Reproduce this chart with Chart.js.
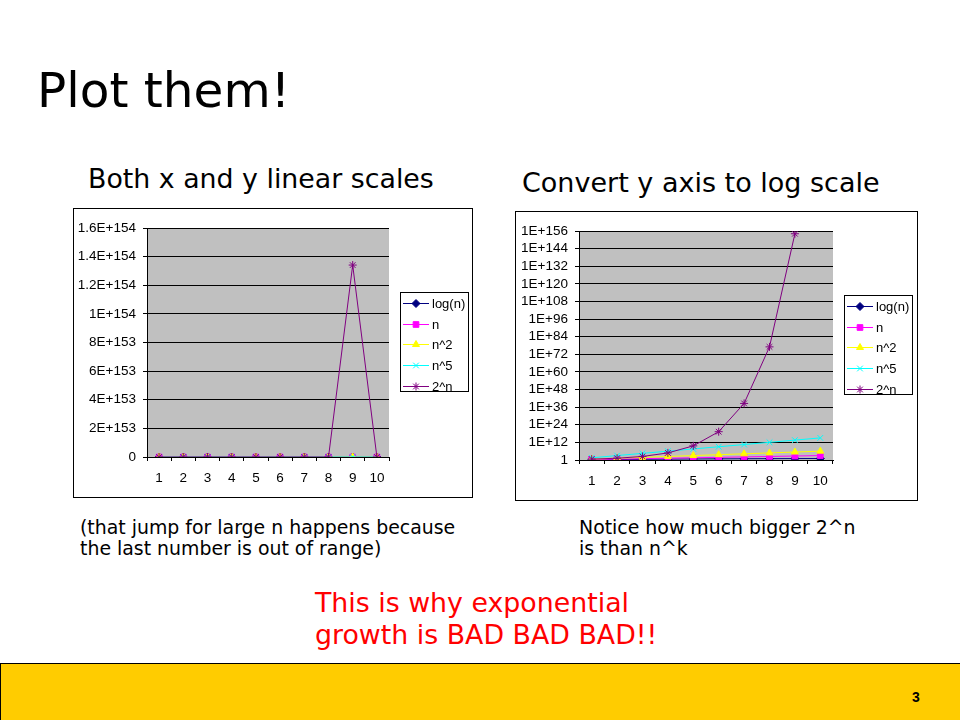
<!DOCTYPE html>
<html>
<head>
<meta charset="utf-8">
<title>Plot them!</title>
<script src="https://cdn.jsdelivr.net/npm/chart.js@4.4.1/dist/chart.umd.min.js"></script>
<style>
    body { margin: 0; width: 960px; height: 720px; background: #fff; position: relative; overflow: hidden; font-family: "DejaVu Sans", Verdana, sans-serif; }
    .txt { position: absolute; white-space: nowrap; color: #000; line-height: 1; }
    canvas { position: absolute; }
    #footer { position: absolute; left: 0; top: 663px; width: 960px; height: 57px; background: #ffcc00; border-top: 1px solid #000; border-left: 1px solid #000; box-sizing: border-box; }
    #pageNo { position: absolute; left: 912px; top: 690px; font: bold 14px "Liberation Sans", Arial, sans-serif; line-height: 1; }
</style>
</head>
<body>

<div class="txt" style="left:37px; top:66px; font-size:48.5px;">Plot them!</div>
<div class="txt" style="left:88px; top:166px; font-size:26.8px;">Both x and y linear scales</div>
<div class="txt" style="left:522px; top:169px; font-size:27px;">Convert y axis to log scale</div>

<canvas id="linChart" width="400" height="290" style="left:73px; top:208px;"></canvas>
<canvas id="logChart" width="403" height="290" style="left:515px; top:211px;"></canvas>

<div class="txt" style="left:80px; top:517px; font-size:18.9px; line-height:21px;">(that jump for large n happens because<br>the last number is out of range)</div>
<div class="txt" style="left:579px; top:517px; font-size:18.9px; line-height:21px;">Notice how much bigger 2^n<br>is than n^k</div>
<div class="txt" style="left:315px; top:587px; font-size:26.8px; line-height:32px; color:#f00;">This is why exponential<br>growth is BAD BAD BAD!!</div>

<div id="footer"></div>
<div id="pageNo">3</div>

<script>
    // x = 1..10, n = 2^x
    const categories = ['1', '2', '3', '4', '5', '6', '7', '8', '9', '10'];
    const logN = [1, 2, 3, 4, 5, 6, 7, 8, 9, 10];
    const nVals = [2, 4, 8, 16, 32, 64, 128, 256, 512, 1024];
    const nSquared = [4, 16, 64, 256, 1024, 4096, 16384, 65536, 262144, 1048576];
    const nFifth = [32, 1024, 32768, 1048576, 33554432, 1073741824, 3.436e10, 1.0995e12, 3.518e13, 1.1259e15];
    // 2^1024 overflows, the sheet gave 0 there
    const twoN = [4, 16, 256, 65536, 4.295e9, 1.845e19, 3.403e38, 1.158e77, 1.341e154, 0];

    const seriesNames = ['log(n)', 'n', 'n^2', 'n^5', '2^n'];

    const linTickValues = [0, 2e153, 4e153, 6e153, 8e153, 1e154, 1.2e154, 1.4e154, 1.6e154];
    const linTickLabels = ['0', '2E+153', '4E+153', '6E+153', '8E+153', '1E+154', '1.2E+154', '1.4E+154', '1.6E+154'];
    const logTickValues = [1, 1e12, 1e24, 1e36, 1e48, 1e60, 1e72, 1e84, 1e96, 1e108, 1e120, 1e132, 1e144, 1e156];
    const logTickLabels = ['1', '1E+12', '1E+24', '1E+36', '1E+48', '1E+60', '1E+72', '1E+84', '1E+96', '1E+108', '1E+120', '1E+132', '1E+144', '1E+156'];

    const tickFont = { family: '"Liberation Sans", Arial, sans-serif', size: 13.5 };

    // white box with black frame, grey plot area
    const frame = {
        id: 'frame',
        beforeDraw(chart) {
            const ctx = chart.ctx, a = chart.chartArea;
            ctx.save();
            ctx.fillStyle = '#fff';
            ctx.fillRect(0, 0, chart.width, chart.height);
            ctx.strokeStyle = '#000';
            ctx.lineWidth = 1;
            ctx.strokeRect(0.5, 0.5, chart.width - 1, chart.height - 1);
            ctx.fillStyle = '#c0c0c0';
            ctx.fillRect(a.left, a.top, a.right - a.left, a.bottom - a.top);
            ctx.restore();
        }
    };

    // excel style legend: line with marker in the middle
    const sideLegend = {
        id: 'sideLegend',
        afterDraw(chart, args, opts) {
            const ctx = chart.ctx;
            ctx.save();
            ctx.fillStyle = '#fff';
            ctx.fillRect(opts.x, opts.y, opts.w, opts.h);
            ctx.strokeStyle = '#000';
            ctx.lineWidth = 1;
            ctx.strokeRect(opts.x + 0.5, opts.y + 0.5, opts.w - 1, opts.h - 1);
            ctx.font = '13px "Liberation Sans", Arial, sans-serif';
            ctx.textBaseline = 'middle';
            chart.data.datasets.forEach(function (ds, i) {
                const cy = Math.round(opts.y + opts.first + i * opts.step);
                ctx.strokeStyle = ds.borderColor;
                ctx.lineWidth = 1;
                ctx.beginPath();
                ctx.moveTo(opts.x + 3, cy + 0.5);
                ctx.lineTo(opts.x + 29, cy + 0.5);
                ctx.stroke();
                ctx.fillStyle = ds.pointBackgroundColor;
                Chart.helpers.drawPoint(ctx, { pointStyle: ds.pointStyle, radius: ds.pointRadius, borderWidth: 1, rotation: 0 }, opts.x + 16, cy + 0.5);
                ctx.fillStyle = '#000';
                ctx.fillText(ds.label, opts.x + 32, cy + 1);
            });
            ctx.restore();
        }
    };

    function makeDatasets(forLog) {
        const values = [logN, nVals, nSquared, nFifth, twoN];
        const colors = ['#000080', '#ff00ff', '#ffff00', '#00ffff', '#800080'];
        const styles = ['rectRot', 'rect', 'triangle', 'crossRot', 'star'];
        return values.map(function (v, i) {
            return {
                label: seriesNames[i],
                data: forLog ? v.map(function (y) { return y > 0 ? y : null; }) : v,
                borderColor: colors[i],
                backgroundColor: colors[i],
                pointBackgroundColor: colors[i],
                pointBorderColor: colors[i],
                pointStyle: styles[i],
                pointRadius: 4,
                pointBorderWidth: 1,
                borderWidth: 1,
                tension: 0,
                spanGaps: false,
                order: 5 - i
            };
        });
    }

    function makeOptions(yAxis, yWidth, rightPad, legendX) {
        return {
            responsive: false,
            animation: false,
            events: [],
            layout: { padding: { left: 0, right: rightPad, top: 20, bottom: 0 } },
            plugins: {
                legend: { display: false },
                tooltip: { enabled: false },
                sideLegend: { x: legendX, y: 84, w: 69, h: 100, first: 11, step: 20.7 }
            },
            scales: {
                x: {
                    type: 'category',
                    offset: true,
                    grid: { drawOnChartArea: false, drawTicks: true, tickLength: 4, color: '#000', offset: true },
                    border: { color: '#000', width: 1 },
                    ticks: { color: '#000', font: tickFont, padding: 9, maxRotation: 0, autoSkip: false },
                    afterFit: function (s) { s.height = 41; }
                },
                y: Object.assign({
                    grid: { color: '#000', lineWidth: 1, drawTicks: true, tickLength: 4 },
                    border: { color: '#000', width: 1 },
                    afterFit: function (s) { s.width = yWidth; }
                }, yAxis)
            }
        };
    }

    new Chart(document.getElementById('linChart').getContext('2d'), {
        type: 'line',
        data: { labels: categories, datasets: makeDatasets(false) },
        options: makeOptions({
            type: 'linear',
            min: 0,
            max: 1.6e154,
            afterBuildTicks: function (s) { s.ticks = linTickValues.map(function (v) { return { value: v }; }); },
            ticks: {
                color: '#000', font: tickFont, padding: 7, autoSkip: false,
                callback: function (value, index) { return linTickLabels[index]; }
            }
        }, 74, 84, 327),
        plugins: [frame, sideLegend]
    });

    new Chart(document.getElementById('logChart').getContext('2d'), {
        type: 'line',
        data: { labels: categories, datasets: makeDatasets(true) },
        options: makeOptions({
            type: 'logarithmic',
            min: 1,
            max: 1e156,
            afterBuildTicks: function (s) { s.ticks = logTickValues.map(function (v) { return { value: v }; }); },
            ticks: {
                color: '#000', font: tickFont, padding: 7, autoSkip: false,
                callback: function (value, index) { return logTickLabels[index]; }
            }
        }, 64, 85, 329),
        plugins: [frame, sideLegend]
    });
</script>
</body>
</html>
